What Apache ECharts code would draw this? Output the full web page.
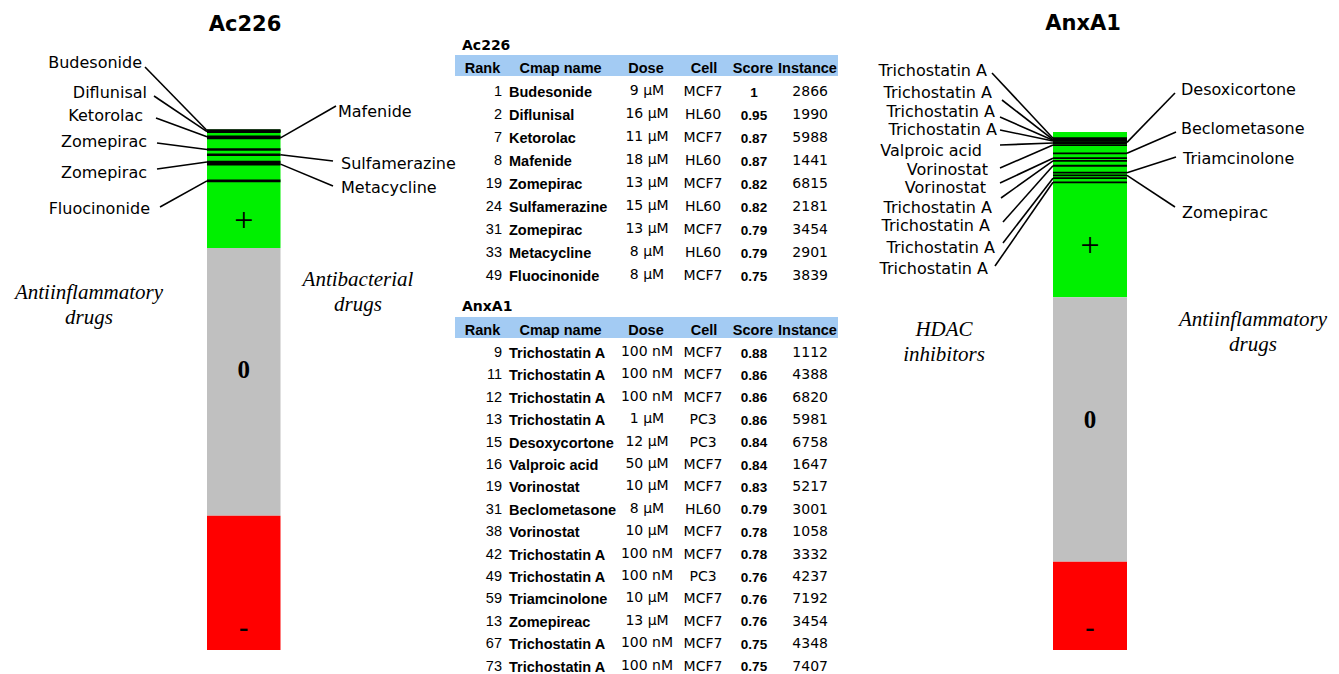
<!DOCTYPE html>
<html>
<head>
<meta charset="utf-8">
<script src="https://cdn.jsdelivr.net/npm/echarts@6/dist/echarts.min.js"></script>
<style>
html,body{margin:0;padding:0;background:#fff;}
#chart{width:1339px;height:674px;}
</style>
</head>
<body>
<div id="chart"></div>
<script>
// ---------------- DATA ----------------
// Connectivity-map score bars: size of +, 0, - segments (in rank units)
const segSigns = ['+', '0', '-'];
const acSegments = [113, 255, 128];
const anxSegments = [240, 384, 128];

// Ac226 table
const acRanks = [1, 2, 7, 8, 19, 24, 31, 33, 49];
const acNames = ['Budesonide', 'Diflunisal', 'Ketorolac', 'Mafenide', 'Zomepirac', 'Sulfamerazine', 'Zomepirac', 'Metacycline', 'Fluocinonide'];
const acDoses = ['9 \u03bcM', '16 \u03bcM', '11 \u03bcM', '18 \u03bcM', '13 \u03bcM', '15 \u03bcM', '13 \u03bcM', '8 \u03bcM', '8 \u03bcM'];
const acCells = ['MCF7', 'HL60', 'MCF7', 'HL60', 'MCF7', 'HL60', 'MCF7', 'HL60', 'MCF7'];
const acScores = ['1', '0.95', '0.87', '0.87', '0.82', '0.82', '0.79', '0.79', '0.75'];
const acInstances = ['2866', '1990', '5988', '1441', '6815', '2181', '3454', '2901', '3839'];

// AnxA1 table
const anxRankText = ['9', '11', '12', '13', '15', '16', '19', '31', '38', '42', '49', '59', '13', '67', '73'];
const anxNames = ['Trichostatin A', 'Trichostatin A', 'Trichostatin A', 'Trichostatin A', 'Desoxycortone', 'Valproic acid', 'Vorinostat', 'Beclometasone', 'Vorinostat', 'Trichostatin A', 'Trichostatin A', 'Triamcinolone', 'Zomepireac', 'Trichostatin A', 'Trichostatin A'];
const anxDoses = ['100 nM', '100 nM', '100 nM', '1 \u03bcM', '12 \u03bcM', '50 \u03bcM', '10 \u03bcM', '8 \u03bcM', '10 \u03bcM', '100 nM', '100 nM', '10 \u03bcM', '13 \u03bcM', '100 nM', '100 nM'];
const anxCells = ['MCF7', 'MCF7', 'MCF7', 'PC3', 'PC3', 'MCF7', 'MCF7', 'HL60', 'MCF7', 'MCF7', 'PC3', 'MCF7', 'MCF7', 'MCF7', 'MCF7'];
const anxScores = ['0.88', '0.86', '0.86', '0.86', '0.84', '0.84', '0.83', '0.79', '0.78', '0.78', '0.76', '0.76', '0.76', '0.75', '0.75'];
const anxInstances = ['1112', '4388', '6820', '5981', '6758', '1647', '5217', '3001', '1058', '3332', '4237', '7192', '3454', '4348', '7407'];
// positions of the AnxA1 hits on the bar (as pictured)
const anxBarRanks = [9, 11, 12, 13, 15, 16, 19, 31, 38, 42, 49, 59, 63, 67, 73];

// Labels beside the bars
const acLeftNames = ['Budesonide', 'Diflunisal', 'Ketorolac', 'Zomepirac', 'Zomepirac', 'Fluocinonide'];
const acLeftRanks = [1, 2, 7, 19, 31, 49];
const acRightNames = ['Mafenide', 'Sulfamerazine', 'Metacycline'];
const acRightRanks = [8, 24, 33];
const anxLeftNames = ['Trichostatin A', 'Trichostatin A', 'Trichostatin A', 'Trichostatin A', 'Valproic acid', 'Vorinostat', 'Vorinostat', 'Trichostatin A', 'Trichostatin A', 'Trichostatin A', 'Trichostatin A'];
const anxLeftRanks = [9, 11, 12, 13, 16, 19, 38, 42, 49, 67, 73];
const anxRightNames = ['Desoxicortone', 'Beclometasone', 'Triamcinolone', 'Zomepirac'];
const anxRightRanks = [15, 31, 59, 63];

const tableHeaders = ['Rank', 'Cmap name', 'Dose', 'Cell', 'Score', 'Instance'];

// ---------------- LAYOUT (pixels) ----------------
// [text anchor x, text center y, leader start x, leader start y]
const acLeftLayout = [[142, 62, 145, 67], [147, 92, 154, 96], [143, 115, 156, 118], [147, 141, 157, 143], [147, 172, 157, 169], [150, 208, 160, 207]];
const acRightLayout = [[338, 111, 336, 106], [341, 163, 333, 161], [341, 187, 333, 186]];
const anxLeftLayout = [[987, 70, 992, 73], [992, 92, 1002, 100], [995, 111, 1000, 117], [997, 129, 1000, 130], [982, 150, 1000, 145], [988, 169, 1000, 168], [986, 187, 1000, 183], [992, 207, 1001, 198], [990, 225, 1003, 222], [995, 247, 1003, 243], [988, 268, 995, 266]];
const anxRightLayout = [[1181, 89, 1175, 93], [1181, 128, 1176, 132], [1183, 158, 1176, 157], [1182, 212, 1175, 207]];
const acSignOffsets = [31, -12, 44];
const anxSignOffsets = [30, -10, 21];
const segColors = ['#00f000', '#c0c0c0', '#ff0000'];

const LABEL_FONT = 'DejaVu Sans';
const SANS = 'Liberation Sans';
const SERIF = 'Liberation Serif';

// ---------------- SERIES BUILDERS ----------------
const signStyles = [
  {fontFamily: SERIF, fontSize: 34, fontWeight: 'normal', color: '#000'},
  {fontFamily: SERIF, fontSize: 25, fontWeight: 'bold', color: '#000'},
  {fontFamily: SERIF, fontSize: 28, fontWeight: 'bold', color: '#000'}
];

function barSeries(idx, segs, offsets) {
  return segs.map((v, k) => ({
    type: 'bar', xAxisIndex: idx, yAxisIndex: idx, stack: 'bar' + idx,
    barWidth: '100%', silent: true, data: [v],
    itemStyle: {color: segColors[k]},
    label: Object.assign({show: true, position: 'inside', offset: [0, offsets[k]], formatter: segSigns[k]}, signStyles[k])
  }));
}

function hitSeries(idx, ranks, thick) {
  return {
    type: 'custom', xAxisIndex: idx, yAxisIndex: idx, z: 5, silent: true,
    data: ranks.map(r => [0, r]),
    renderItem(params, api) {
      const p = api.coord([0, api.value(1)]);
      const w = api.size([1, 0])[0];
      return {type: 'rect', shape: {x: p[0] - w / 2, y: p[1] - thick / 2, width: w, height: thick}, style: {fill: '#000'}};
    }
  };
}

function leaderSeries(idx, ranks, names, layout, side) {
  return {
    type: 'custom', xAxisIndex: idx, yAxisIndex: idx, z: 6, silent: true, clip: false,
    data: ranks.map((r, i) => [0, r, i]),
    renderItem(params, api) {
      const i = api.value(2);
      const p = api.coord([0, api.value(1)]);
      const w = api.size([1, 0])[0];
      const L = layout[i];
      const edge = side === 'left' ? p[0] - w / 2 : p[0] + w / 2;
      return {
        type: 'group',
        children: [
          {type: 'line', shape: {x1: L[2], y1: L[3], x2: edge, y2: p[1]}, style: {stroke: '#000', lineWidth: 1.6}},
          {type: 'text', x: L[0], y: L[1], style: {
            text: names[i], fill: '#000', fontFamily: LABEL_FONT, fontSize: 16,
            textAlign: side === 'left' ? 'right' : 'left', textVerticalAlign: 'middle',
            align: side === 'left' ? 'right' : 'left', verticalAlign: 'middle'}}
        ]
      };
    }
  };
}

// ---------------- GRAPHIC TEXT (titles, notes, tables) ----------------
function txt(x, y, text, opts) {
  return {type: 'text', x: x, y: y, silent: true, style: Object.assign({
    text: text, fill: '#000', fontFamily: SANS, fontSize: 14,
    textAlign: 'center', textVerticalAlign: 'middle', align: 'center', verticalAlign: 'middle'}, opts || {})};
}
function al(a) { return {textAlign: a, align: a}; }

const graphics = [];
// titles
graphics.push(txt(245, 24, 'Ac226', {fontFamily: LABEL_FONT, fontWeight: 'bold', fontSize: 21}));
graphics.push(txt(1083, 23, 'AnxA1', {fontFamily: LABEL_FONT, fontWeight: 'bold', fontSize: 21}));
// italic class notes
const noteStyle = {fontFamily: SERIF, fontStyle: 'italic', fontSize: 21};
graphics.push(txt(89, 292, 'Antiinflammatory', noteStyle), txt(89, 317, 'drugs', noteStyle));
graphics.push(txt(358, 279, 'Antibacterial', noteStyle), txt(358, 304, 'drugs', noteStyle));
graphics.push(txt(944, 329, 'HDAC', noteStyle), txt(944, 354, 'inhibitors', noteStyle));
graphics.push(txt(1253, 319, 'Antiinflammatory', noteStyle), txt(1253, 344, 'drugs', noteStyle));

// tables
const headerX = [482.5, 560.5, 646, 704, 753, 807.5];
function buildTable(title, titleY, bandY, rowY0, rowStep, ranks, names, doses, cells, scores, inst) {
  graphics.push(txt(462, titleY, title, Object.assign({fontFamily: LABEL_FONT, fontWeight: 'bold', fontSize: 14}, al('left'))));
  graphics.push({type: 'rect', silent: true, shape: {x: 455, y: bandY, width: 383, height: 21}, style: {fill: '#a3cbf3'}});
  tableHeaders.forEach((h, k) => graphics.push(txt(headerX[k], bandY + 12.5, h, {fontWeight: 'bold', fontSize: 14.5})));
  names.forEach((n, i) => {
    const y = rowY0 + i * rowStep;
    graphics.push(txt(502, y, ranks[i], Object.assign({fontSize: 14.5}, al('right'))));
    graphics.push(txt(509, y + 1, n, Object.assign({fontSize: 14.5, fontWeight: 'bold'}, al('left'))));
    graphics.push(txt(647, y - 1, doses[i], {fontFamily: LABEL_FONT, fontSize: 14}));
    graphics.push(txt(703, y, cells[i], {fontFamily: LABEL_FONT, fontSize: 14}));
    graphics.push(txt(754, y + 1, scores[i], {fontWeight: 'bold', fontSize: 13.5}));
    graphics.push(txt(828, y, inst[i], Object.assign({fontFamily: LABEL_FONT, fontSize: 14}, al('right'))));
  });
}
buildTable('Ac226', 45, 55, 91, 23, acRanks.map(String), acNames, acDoses, acCells, acScores, acInstances);
buildTable('AnxA1', 306, 317, 352, 22.4, anxRankText, anxNames, anxDoses, anxCells, anxScores, anxInstances);

// ---------------- CHART ----------------
const chart = echarts.init(document.getElementById('chart'), null, {renderer: 'svg', width: 1339, height: 674});
const sumAc = acSegments.reduce((a, b) => a + b, 0);
const sumAnx = anxSegments.reduce((a, b) => a + b, 0);
chart.setOption({
  animation: false,
  backgroundColor: '#fff',
  grid: [
    {left: 207, top: 129.5, width: 73.5, height: 520.5},
    {left: 1053, top: 132, width: 74, height: 518}
  ],
  xAxis: [
    {type: 'category', gridIndex: 0, data: ['Ac226'], show: false},
    {type: 'category', gridIndex: 1, data: ['AnxA1'], show: false}
  ],
  yAxis: [
    {type: 'value', gridIndex: 0, inverse: true, min: 0, max: sumAc, show: false},
    {type: 'value', gridIndex: 1, inverse: true, min: 0, max: sumAnx, show: false}
  ],
  graphic: graphics,
  series: [].concat(
    barSeries(0, acSegments, acSignOffsets),
    barSeries(1, anxSegments, anxSignOffsets),
    [hitSeries(0, acRanks, 2.6), hitSeries(1, anxBarRanks, 1.8),
     leaderSeries(0, acLeftRanks, acLeftNames, acLeftLayout, 'left'),
     leaderSeries(0, acRightRanks, acRightNames, acRightLayout, 'right'),
     leaderSeries(1, anxLeftRanks, anxLeftNames, anxLeftLayout, 'left'),
     leaderSeries(1, anxRightRanks, anxRightNames, anxRightLayout, 'right')]
  )
});
</script>
</body>
</html>
